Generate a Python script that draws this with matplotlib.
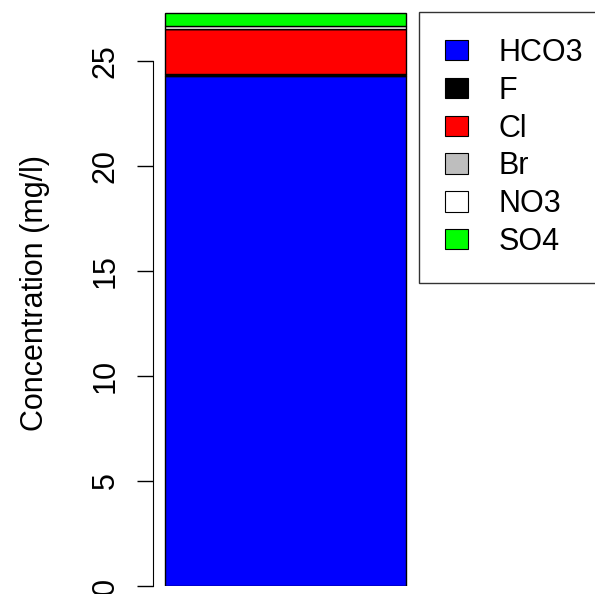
import matplotlib
matplotlib.use("Agg")
import matplotlib.pyplot as plt
from matplotlib.patches import Patch

plt.rcParams['font.family'] = ['Liberation Sans', 'DejaVu Sans']

ions = ["HCO3", "F", "Cl", "Br", "NO3", "SO4"]
values = [24.3, 0.08, 2.12, 0.02, 0.17, 0.6]
colors = ["#0000FF", "#000000", "#FF0000", "#BEBEBE", "#FFFFFF", "#00FF00"]
yticks = [0, 5, 10, 15, 20, 25]

fig = plt.figure(figsize=(5.95, 5.94), dpi=100)
ax = fig.add_axes([153/595, 8/594, 265/595, 585.9/594])

bottom = 0.0
for ion, v, c in zip(ions, values, colors):
    ax.bar(0.5, v, width=0.9094, bottom=bottom, color=c, edgecolor="black",
           linewidth=1.0, label=ion)
    bottom += v

ax.set_xlim(0, 1)
ax.set_ylim(0, 27.9)
for s in ["top", "right", "bottom"]:
    ax.spines[s].set_visible(False)
ax.spines["left"].set_bounds(0, 25)
ax.set_xticks([])
ax.set_yticks(yticks)
ax.set_yticklabels([str(t) for t in yticks], rotation=90, va="center", fontsize=22)
ax.tick_params(axis="y", length=11.5, width=1, pad=12)
ax.set_ylabel("Concentration (mg/l)", fontsize=22, labelpad=29)

handles = [Patch(facecolor=c, edgecolor="black", linewidth=0.8) for c in colors]
leg = fig.legend(handles, ions, loc="upper left",
                 bbox_to_anchor=(419/595, 1 - 12/594), fontsize=22,
                 frameon=True, fancybox=False, edgecolor="black",
                 handlelength=0.75, handleheight=0.65, handletextpad=1.0,
                 labelspacing=0.255, borderpad=0.85, borderaxespad=0)
leg.get_frame().set_linewidth(1.0)

fig.savefig("out.png", dpi=100)
